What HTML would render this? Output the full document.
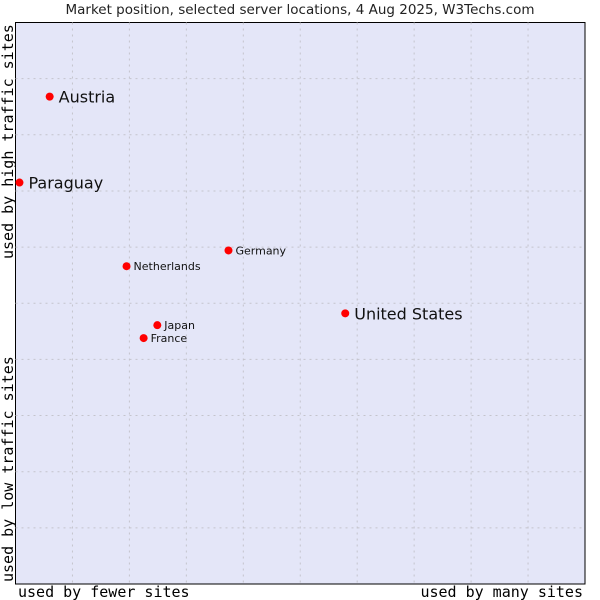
<!DOCTYPE html>
<html><head><meta charset="utf-8"><style>
body{margin:0;background:#fff;width:600px;height:600px;overflow:hidden}
svg{display:block}
</style></head><body>
<svg width="600" height="600" xmlns="http://www.w3.org/2000/svg">
<text x="300" y="14" text-anchor="middle" font-family="DejaVu Sans, sans-serif" font-size="13.5" fill="#222">Market position, selected server locations, 4 Aug 2025, W3Techs.com</text>
<rect x="15.5" y="22.5" width="569.5" height="561.5" fill="#e4e6f8" stroke="#000" stroke-width="1"/>
<g id="grid"></g>
<g id="pts"></g>
<text x="18" y="597" font-family="DejaVu Sans Mono, monospace" font-size="15" fill="#000">used by fewer sites</text>
<text x="583" y="597" text-anchor="end" font-family="DejaVu Sans Mono, monospace" font-size="15" fill="#000">used by many sites</text>
<text transform="translate(13,259) rotate(-90)" font-family="DejaVu Sans Mono, monospace" font-size="15" fill="#000">used by high traffic sites</text>
<text transform="translate(13,582) rotate(-90)" font-family="DejaVu Sans Mono, monospace" font-size="15" fill="#000">used by low traffic sites</text>
</svg>
<script>
const names=["Austria","Paraguay","Germany","Netherlands","United States","Japan","France"];
const xVals=[6.0,0.7,37.4,19.5,57.9,24.9,22.5];
const yVals=[86.8,71.5,59.4,56.6,48.2,46.1,43.8];
const big=[true,true,false,false,true,false,false];
const L=15.5,R=585,T=22.5,B=584;
const sx=v=>L+(R-L)*v/100, sy=v=>B-(B-T)*v/100;
const NS="http://www.w3.org/2000/svg";
const g=document.getElementById('grid');
for(let i=1;i<10;i++){
 let l=document.createElementNS(NS,'line');
 
 
 l.setAttribute('x1',sx(i*10));l.setAttribute('x2',sx(i*10));l.setAttribute('y1',T);l.setAttribute('y2',B);
 l.setAttribute('stroke','#c4c4cc');l.setAttribute('stroke-dasharray','2,4');g.appendChild(l);
 let h=document.createElementNS(NS,'line');
 
 
 h.setAttribute('y1',sy(i*10));h.setAttribute('y2',sy(i*10));h.setAttribute('x1',L);h.setAttribute('x2',R);
 h.setAttribute('stroke','#c4c4cc');h.setAttribute('stroke-dasharray','2,4');g.appendChild(h);
}
const p=document.getElementById('pts');
names.forEach((n,i)=>{
 const x=sx(xVals[i]),y=sy(yVals[i]);
 let c=document.createElementNS(NS,'circle');
 
 
 c.setAttribute('cx',x);c.setAttribute('cy',y);c.setAttribute('r',4);c.setAttribute('fill','#f00');p.appendChild(c);
 let t=document.createElementNS(NS,'text');
 
 
 t.setAttribute('x',x+(big[i]?9:7));t.setAttribute('y',y+(big[i]?6:4));
 t.setAttribute('font-family','DejaVu Sans, sans-serif');t.setAttribute('font-size',big[i]?16:11);t.setAttribute('fill','#111');
 t.textContent=n;p.appendChild(t);
});
</script>
</body></html>
